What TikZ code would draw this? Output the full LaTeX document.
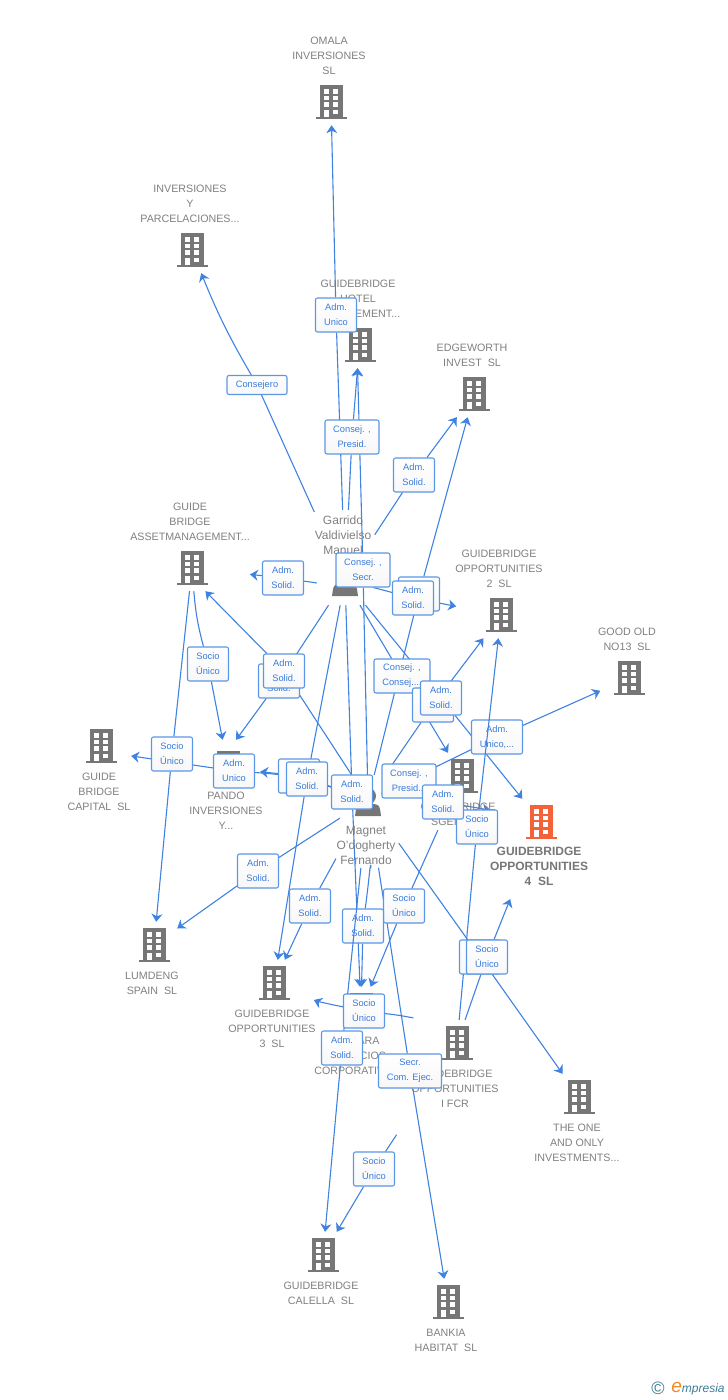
\documentclass[tikz,border=0pt]{standalone}
\usepackage{xcolor}
\usepackage{fontspec}
\setmainfont{Liberation Sans}
\usetikzlibrary{positioning, arrows.meta, backgrounds}

\definecolor{linkblue}{HTML}{3F82E0}
\definecolor{roleblue}{HTML}{5A97E6}
\definecolor{roletext}{HTML}{3A7BDD}
\definecolor{towergrey}{HTML}{767676}
\definecolor{towermain}{HTML}{F4623A}
\definecolor{namegrey}{HTML}{808080}
\definecolor{logoteal}{HTML}{3C7C96}
\definecolor{logoorange}{HTML}{F08A24}

\newcommand{\towericon}[1]{
    \begin{scope}[shift={(path picture bounding box.center)}]
        \fill [#1] (-11.5,-17) rectangle (11.5,15);
        \fill [#1] (-15.5,14.5) rectangle (15.5,17);
        \foreach \wx in {-7.5,2} {
            \fill [white] (\wx,-12.7) rectangle +(5,4.4);
            \fill [white] (\wx,-6.3) rectangle +(5,4.6);
            \fill [white] (\wx,0.3) rectangle +(5,4.7);
        }
        \fill [white] (-7.5,7.5) rectangle (-2.5,14.5);
        \fill [white] (2,7.5) rectangle (7,11.7);
    \end{scope}
}
\newcommand{\figureicon}{
    \begin{scope}[shift={(path picture bounding box.center)}]
        \fill [towergrey] (0,-4) circle (8);
        \fill [towergrey] (-13,16) -- (-12,9) .. controls (-11,5) and (-9,4) .. (-6,4) -- (6,4) .. controls (9,4) and (11,5) .. (12,9) -- (13,16) -- cycle;
    \end{scope}
}

\begin{document}
\begin{tikzpicture}[x = 1pt, y = -1pt, node distance = 4pt, >={Stealth[length=8pt, width=11pt, inset=2.5pt]}]
    \tikzstyle{firm} = [minimum size = 46pt, inner sep = 0pt, path picture = {\towericon{towergrey}}]
    \tikzstyle{mainfirm} = [minimum size = 46pt, inner sep = 0pt, path picture = {\towericon{towermain}}]
    \tikzstyle{person} = [minimum width = 56pt, minimum height = 50pt, inner sep = 0pt, path picture = {\figureicon}]
    \tikzstyle{caption} = [inner sep = 0pt, align = center, xshift = -2pt, text = namegrey, font = \fontsize{10.7}{15}\selectfont]
    \tikzstyle{who} = [inner sep = 0pt, align = center, text = namegrey, font = \fontsize{12}{15}\selectfont]
    \tikzstyle{role} = [draw = roleblue, line width = 1.1pt, rounded corners = 2pt, top color = white, bottom color = black!3, minimum width = 41pt, minimum height = 34pt, inner sep = 0pt, align = center, text = roletext, font = \fontsize{9.3}{15}\selectfont]
    \tikzstyle{link} = [color = linkblue, line width = 1.1pt]

    \useasboundingbox (0,0) rectangle (728,1400);

    \node [firm] (omala) at (331,102) {};
    \node [caption, above = of omala] (omalatxt) {OMALA\\INVERSIONES\\SL};
    \node [firm] (inversiones) at (192,250) {};
    \node [caption, above = of inversiones] (inversionestxt) {INVERSIONES\\Y\\PARCELACIONES...};
    \node [firm] (hotel) at (360,345) {};
    \node [caption, above = of hotel] (hoteltxt) {GUIDEBRIDGE\\HOTEL\\MANAGEMENT...};
    \node [firm] (edgeworth) at (474,394) {};
    \node [caption, above = of edgeworth] (edgeworthtxt) {EDGEWORTH\\INVEST~~SL};
    \node [firm] (asset) at (192,568) {};
    \node [caption, above = of asset] (assettxt) {GUIDE\\BRIDGE\\ASSETMANAGEMENT...};
    \node [firm] (opptwo) at (501,615) {};
    \node [caption, above = of opptwo] (opptwotxt) {GUIDEBRIDGE\\OPPORTUNITIES\\2~~SL};
    \node [firm] (goodold) at (629,678) {};
    \node [caption, above = of goodold] (goodoldtxt) {GOOD OLD\\NO13~~SL};
    \node [firm] (capital) at (101,746) {};
    \node [caption, below = of capital] (capitaltxt) {GUIDE\\BRIDGE\\CAPITAL~~SL};
    \node [firm, minimum width = 64pt, minimum height = 56pt] (pando) at (228,768) {};
    \node [caption, below = -4pt of pando] (pandotxt) {PANDO\\INVERSIONES\\Y...};
    \node [firm] (sge) at (462,776) {};
    \node [caption, below = of sge, xshift = -2pt] (sgetxt) {GUIDEBRIDGE\\SGEIC~~SA};
    \node [mainfirm] (main) at (541,822) {};
    \node [caption, below = 2pt of main, text = towergrey, font = \fontsize{12}{15}\selectfont\bfseries] (maintxt) {GUIDEBRIDGE\\OPPORTUNITIES\\4~~SL};
    \node [firm] (lumdeng) at (154,945) {};
    \node [caption, below = of lumdeng] (lumdengtxt) {LUMDENG\\SPAIN~~SL};
    \node [firm] (oppthree) at (274,983) {};
    \node [caption, below = of oppthree] (oppthreetxt) {GUIDEBRIDGE\\OPPORTUNITIES\\3~~SL};
    \node [firm] (samara) at (361,1010) {};
    \node [caption, below = of samara, xshift = -2pt] (samaratxt) {SAMARA\\SERVICIOS\\CORPORATIVOS};
    \node [firm] (fcr) at (457,1043) {};
    \node [caption, below = of fcr] (fcrtxt) {GUIDEBRIDGE\\OPPORTUNITIES\\I FCR};
    \node [firm] (oneonly) at (579,1097) {};
    \node [caption, below = of oneonly] (oneonlytxt) {THE ONE\\AND ONLY\\INVESTMENTS...};
    \node [firm] (calella) at (323,1255) {};
    \node [caption, below = of calella] (calellatxt) {GUIDEBRIDGE\\CALELLA~~SL};
    \node [firm] (bankia) at (448,1302) {};
    \node [caption, below = of bankia] (bankiatxt) {BANKIA\\HABITAT~~SL};

    \node [person] (garrido) at (345,580) {};
    \node [who] (garridotxt) at (343,535) {Garrido\\Valdivielso\\Manuel};
    \node [person] (magnet) at (368,800) {};
    \node [who] (magnettxt) at (366,845) {Magnet\\O'dogherty\\Fernando};

    \node [role, minimum width = 60pt, minimum height = 19pt] (consejero) at (257,385) {Consejero};
    \node [role] (unicoomala) at (336,315) {Adm.\\Unico};
    \node [role, minimum width = 54pt] (presidhotel) at (352,437) {Consej. ,\\Presid.};
    \node [role] (solidedge) at (414,475) {Adm.\\Solid.};
    \node [role] (solidasset) at (283,578) {Adm.\\Solid.};
    \node [role, minimum width = 54pt] (secrhotel) at (363,570) {Consej. ,\\Secr.};
    \node [role] (solidedgeb) at (419,594) {Adm.\\Solid.};
    \node [role] (solidtwo) at (413,598) {Adm.\\Solid.};
    \node [role] (sociopando) at (208,664) {Socio\\Único};
    \node [role] (solidpando) at (279,681) {Adm.\\Solid.};
    \node [role] (solidassetb) at (284,671) {Adm.\\Solid.};
    \node [role, minimum width = 56pt] (consejsge) at (402,676) {Consej. ,\\Consej....};
    \node [role] (solidtwob) at (433,705) {Adm.\\Solid.};
    \node [role] (solidmain) at (441,698) {Adm.\\Solid.};
    \node [role, minimum width = 51pt] (unicogood) at (497,737) {Adm.\\Unico,...};
    \node [role] (sociolum) at (172,754) {Socio\\Único};
    \node [role] (unicocap) at (234,771) {Adm.\\Unico};
    \node [role] (solidpandob) at (299,776) {Adm.\\Solid.};
    \node [role] (solidthree) at (307,779) {Adm.\\Solid.};
    \node [role] (solidsamara) at (352,792) {Adm.\\Solid.};
    \node [role, minimum width = 54pt] (presidsge) at (409,781) {Consej. ,\\Presid...};
    \node [role] (sociotwo) at (477,827) {Socio\\Único};
    \node [role] (solidmainb) at (443,802) {Adm.\\Solid.};
    \node [role] (solidlum) at (258,871) {Adm.\\Solid.};
    \node [role] (solidthreeb) at (310,906) {Adm.\\Solid.};
    \node [role] (sociosamara) at (404,906) {Socio\\Único};
    \node [role] (solidsamarab) at (363,926) {Adm.\\Solid.};
    \node [role] (socioone) at (480,957) {};
    \node [role] (sociomain) at (487,957) {Socio\\Único};
    \node [role] (solidcal) at (342,1048) {Adm.\\Solid.};

    \draw [link, shorten <= 43pt] (magnet) -- (solidcal);
    \draw [link, ->] (sociotwo) -- (opptwo);

    \node [role] (sociothree) at (364,1011) {Socio\\Único};
    \node [role, minimum width = 63pt] (secrbankia) at (410,1071) {Secr.\\Com. Ejec.};
    \node [role] (sociocal) at (374,1169) {Socio\\Único};

    \node [text = logoteal, inner sep = 0pt, font = \fontsize{18}{18}\selectfont] (copyright) at (658,1388) {©};
    \node [text = logoteal, inner sep = 0pt, font = \fontsize{12}{14}\selectfont\itshape] (logo) at (698,1389) {\textcolor{logoorange}{\fontsize{19}{14}\selectfont e}mpresia};

    \begin{scope}[on background layer]
    \begin{scope}[link]
        \draw [shorten <= 47pt] (garrido) -- (consejero);
        \draw [->] (consejero) to [bend left = 4] (inversiones);
        \draw [shorten <= 45pt] (garrido) -- (unicoomala);
        \draw [->] (unicoomala) -- (omala);
        \draw [shorten <= 45pt] (garrido) -- (presidhotel);
        \draw [->] (presidhotel) -- (hotel.-96);
        \draw (magnet) -- (secrhotel);
        \draw [->] (secrhotel) -- (hotel.-96);
        \draw [shorten <= 24pt] (garrido) -- (solidedge);
        \draw [->] (solidedge) -- (edgeworth);
        \draw (magnet) -- (solidedgeb);
        \draw [->] (solidedgeb) -- (edgeworth);
        \draw (garrido) -- (solidtwo);
        \draw [->, shorten >= 22pt] (solidtwo) -- (opptwo);
        \draw (garrido.186) -- (solidasset);
        \draw [->, shorten >= 35pt] (solidasset) -- (asset);
        \draw (magnet) -- (solidassetb);
        \draw [->] (solidassetb) -- (asset.-60);
        \draw (garrido) -- (solidpando);
        \draw [->] (solidpando) -- (pando.74);
        \draw (asset) to [bend right = 5] (sociopando);
        \draw [->] (sociopando) -- (pando);
        \draw (asset) -- (sociolum);
        \draw [->] (sociolum) -- (lumdeng);
        \draw (magnet) to [bend right = 8] (unicocap);
        \draw [->, shorten >= 7pt] (unicocap) -- (capital.-21);
        \draw (magnet) -- (solidpandob);
        \draw [->] (solidpandob) -- (pando);
        \draw (garrido) -- (solidthree);
        \draw [->] (solidthree) -- (oppthree);
        \draw [shorten <= 38pt] (magnet) -- (solidthreeb);
        \draw [->] (solidthreeb) -- (oppthree);
        \draw (magnet) -- (solidlum);
        \draw [->] (solidlum) -- (lumdeng);
        \draw (garrido) -- (solidsamara);
        \draw [->] (solidsamara) -- (samara);
        \draw [shorten <= 43pt] (magnet) to [bend left = 5] (solidsamarab);
        \draw [->] (solidsamarab) -- (samara);
        \draw [shorten <= 34pt] (sge) -- (sociosamara);
        \draw [->] (sociosamara) -- (samara);
        \draw [->] (solidcal) -- (calella);
        \draw [shorten <= 43pt] (magnet) -- (secrbankia);
        \draw [->] (secrbankia) -- (bankia);
        \draw [shorten <= 82pt] (fcr) -- (sociocal);
        \draw [->] (sociocal) -- (calella);
        \draw [shorten <= 24pt] (fcr) to [bend right = 12] (sociothree);
        \draw [->, shorten >= 18pt] (sociothree) to [bend left = 6] (oppthree);
        \draw (fcr) -- (sociotwo);
        \draw (fcr) -- (sociomain);
        \draw [->, shorten >= 58pt] (sociomain) -- (main);
        \draw [shorten <= 22pt] (magnet) -- (socioone);
        \draw [->] (socioone) -- (oneonly);
        \draw (garrido) -- (consejsge);
        \draw [->] (consejsge) -- (sge);
        \draw (magnet) -- (solidtwob);
        \draw [->] (solidtwob) -- (opptwo);
        \draw (garrido) -- (solidmain);
        \draw [->] (solidmain) -- (main);
        \draw (magnet) -- (unicogood);
        \draw [->, shorten >= 6pt] (unicogood) -- (goodold);
        \draw (magnet) to [bend left = 10] (solidmainb);
        \draw [->, shorten >= 28pt] (solidmainb) -- (main.163);
        \draw (magnet) -- (presidsge);
    \end{scope}
    \end{scope}
\end{tikzpicture}
\end{document}
